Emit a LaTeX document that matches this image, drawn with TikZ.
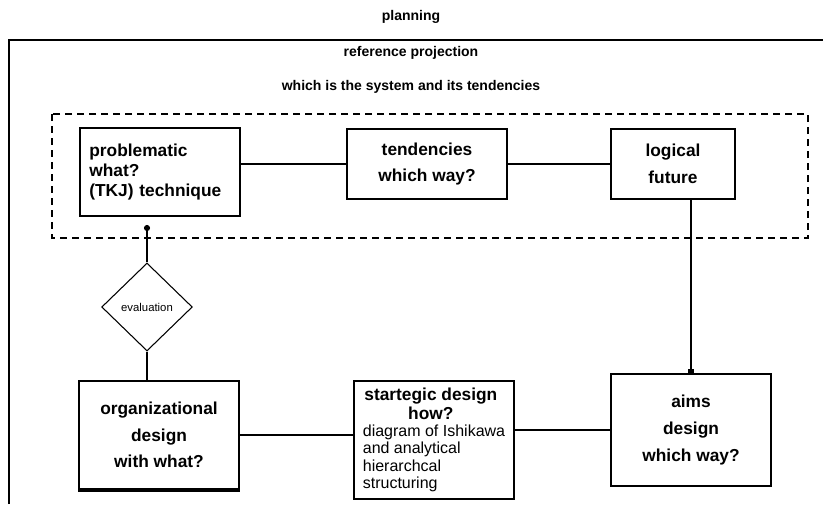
\documentclass[tikz,border=0pt]{standalone}
\usepackage{fontspec}
\setmainfont{Liberation Sans}
\usetikzlibrary{arrows.meta,positioning,calc,shapes.geometric}

\begin{document}
\begin{tikzpicture}[x=0.75pt,y=-0.75pt,
   stage/.style={draw,line width=1.5pt,inner sep=0pt,font=\fontsize{13}{20}\selectfont\bfseries,align=center},
   link/.style={line width=1.4pt},
   heading/.style={font=\fontsize{10.5}{12}\selectfont\bfseries}]
  \useasboundingbox (0,0) rectangle (823,504);
  % outer frame, cut off at right and bottom
  \draw[line width=1.6pt] (9,504) -- (9,40);
  \draw[line width=2.2pt] (8,40) -- (823,40);
  \node[heading] (plan) at (411,17) {planning};
  \node[heading] (refproj) at (411,53) {reference projection};
  \node[heading] (sys) at (411,87) {which is the system and its tendencies};
  % dashed reference projection area
  \draw[line width=1.6pt,dash pattern=on 5.5pt off 3.5pt] (52,114) rectangle (808,238);
  % top row
  \node[stage,minimum width=120pt,minimum height=66pt,align=left,text width=106pt,
        font=\fontsize{13}{15}\selectfont\bfseries] (prob) at (160,172)
     {problematic\\ what?\\ (TKJ) technique};
  \node[stage,minimum width=120pt,minimum height=52.5pt] (tend) at (427,164)
     {tendencies\\ which way?};
  \node[stage,minimum width=93pt,minimum height=52.5pt] (logic) at (673,164)
     {logical\\ future};
  % bottom row
  \node[stage,minimum width=120pt,minimum height=84pt] (aims) at (691,430)
     {aims\\ design\\ which way?};
  \node[stage,minimum width=120pt,minimum height=88.5pt,inner sep=4pt,align=left,
        font=\fontsize{12}{13}\selectfont] (strat) at (434,440)
     {\makebox[102pt][c]{\fontsize{13}{15}\selectfont\bfseries startegic design}\\[1pt]
      \makebox[102pt][c]{\fontsize{13}{15}\selectfont\bfseries how?}\\
      diagram of Ishikawa\\ and analytical\\ hierarchcal\\ structuring};
  \node[stage,minimum width=120pt,minimum height=81pt] (org) at (159,435)
     {organizational\\ design\\ with what?};
  \draw[line width=2.5pt] (org.south west) -- (org.south east);
  \node[diamond,draw,line width=0.8pt,minimum width=68pt,minimum height=66pt,inner sep=0pt,
        font=\fontsize{8.5}{10}\selectfont] (eval) at (147,307) {evaluation};
  % connectors
  \draw[link] (tend.west -| prob.east) -- (tend.west);
  \draw[link] (tend.east) -- (logic.west);
  \draw[link,line width=1.1pt,-{Square[length=4pt,width=5pt]}] (aims.north |- logic.south) -- ([yshift=-1pt]aims.north);
  \draw[link] (aims.west -| strat.east) -- (aims.west);
  \draw[link] (org.east) -- (org.east -| strat.west);
  \draw[link,-{Circle[length=4.5pt]},shorten >=6pt] (eval.north) -- (eval.north |- prob.south);
  \draw[link] (eval.south) -- (eval.south |- org.north);
\end{tikzpicture}
\end{document}
